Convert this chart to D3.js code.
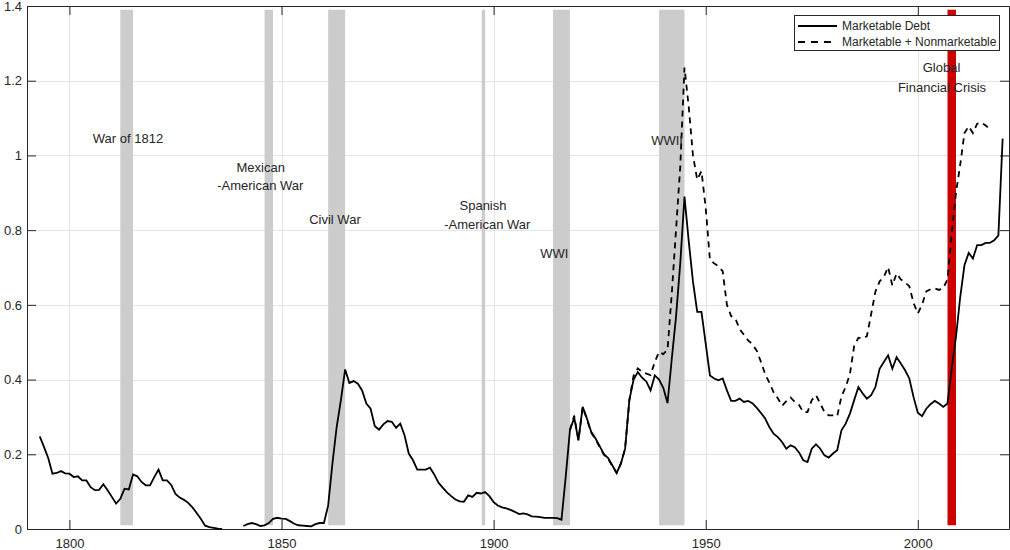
<!DOCTYPE html>
<html>
<head>
<meta charset="utf-8">
<script src="https://cdnjs.cloudflare.com/ajax/libs/d3/7.8.5/d3.min.js"></script>
<style>
  body { margin: 0; background: #fff; }
  svg { display: block; font-family: Arial, "Liberation Sans", Helvetica, sans-serif; }
  .axis path, .axis line { stroke: #262626; }
  .axis text { fill: #262626; font-size: 13px; }
  .grid line { stroke: #e4e4e4; stroke-width: 1; }
  .war-label { fill: #262626; font-size: 13px; }
  .legend text { fill: #262626; font-size: 12px; }
</style>
</head>
<body>
<svg id="chart" width="1010" height="550"></svg>
<script>
// marketable debt / GDP, one value per year from 1793 (null = no debt outstanding)
var debtStart = 1793;
var marketable = [
  0.248, 0.220, 0.190, 0.148, 0.150, 0.155, 0.149,
  0.148, 0.139, 0.141, 0.130, 0.130, 0.112, 0.104, 0.105, 0.120, 0.104,
  0.086, 0.068, 0.081, 0.108, 0.106, 0.146, 0.141, 0.126, 0.117, 0.117,
  0.139, 0.159, 0.130, 0.130, 0.118, 0.094, 0.084, 0.078, 0.070, 0.058,
  0.043, 0.027, 0.009, 0.005, 0.003, 0.001, 0.000, null, null, null,
  null, 0.008, 0.013, 0.016, 0.013, 0.008, 0.010, 0.016, 0.027, 0.030,
  0.028, 0.027, 0.021, 0.014, 0.010, 0.009, 0.008, 0.007, 0.013, 0.016,
  0.016, 0.063, 0.175, 0.273, 0.345, 0.427, 0.391, 0.396, 0.389, 0.371,
  0.336, 0.322, 0.275, 0.266, 0.280, 0.289, 0.287, 0.271, 0.282, 0.251,
  0.202, 0.184, 0.159, 0.159, 0.159, 0.164, 0.146, 0.124, 0.111, 0.098,
  0.088, 0.079, 0.074, 0.073, 0.090, 0.086, 0.097, 0.095, 0.099, 0.088,
  0.072, 0.063, 0.058, 0.055, 0.051, 0.046, 0.040, 0.042, 0.039, 0.034,
  0.033, 0.032, 0.030, 0.030, 0.030, 0.029, 0.025, 0.140, 0.265, 0.298,
  0.237, 0.327, 0.296, 0.260, 0.243, 0.222, 0.200, 0.190, 0.170, 0.150,
  0.175, 0.215, 0.345, 0.400, 0.420, 0.405, 0.395, 0.371, 0.411, 0.400,
  0.378, 0.337, 0.455, 0.568, 0.711, 0.890, 0.770, 0.662, 0.581, 0.581,
  0.496, 0.411, 0.403, 0.398, 0.403, 0.371, 0.343, 0.343, 0.349, 0.340,
  0.343, 0.337, 0.325, 0.311, 0.296, 0.273, 0.255, 0.246, 0.233, 0.215,
  0.224, 0.219, 0.205, 0.184, 0.179, 0.215, 0.227, 0.215, 0.197, 0.191,
  0.202, 0.211, 0.264, 0.282, 0.309, 0.345, 0.380, 0.363, 0.349, 0.358,
  0.380, 0.429, 0.447, 0.465, 0.429, 0.460, 0.443, 0.425, 0.403, 0.353,
  0.311, 0.302, 0.322, 0.334, 0.343, 0.336, 0.327, 0.336, 0.430, 0.514,
  0.621, 0.706, 0.739, 0.724, 0.760, 0.760, 0.766, 0.766, 0.773, 0.786,
  1.045
];

// marketable + nonmarketable, one value per year from 1918
var totalStart = 1918;
var total = [
  0.265, 0.303,
  0.238, 0.326, 0.294, 0.258, 0.240, 0.220, 0.199, 0.188, 0.168, 0.150,
  0.175, 0.215, 0.345, 0.410, 0.430, 0.420, 0.416, 0.412, 0.447, 0.474,
  0.468, 0.480, 0.630, 0.800, 0.970, 1.235, 1.130, 1.000, 0.935, 0.958,
  0.860, 0.720, 0.711, 0.703, 0.690, 0.600, 0.570, 0.563, 0.535, 0.520,
  0.505, 0.495, 0.478, 0.448, 0.415, 0.392, 0.366, 0.350, 0.330, 0.342,
  0.352, 0.340, 0.332, 0.313, 0.313, 0.345, 0.358, 0.336, 0.313, 0.304,
  0.304, 0.302, 0.355, 0.380, 0.415, 0.490, 0.512, 0.510, 0.516, 0.575,
  0.635, 0.663, 0.675, 0.701, 0.652, 0.684, 0.668, 0.660, 0.650, 0.605,
  0.577, 0.600, 0.636, 0.642, 0.644, 0.640, 0.645, 0.668, 0.790, 0.900,
  0.975, 1.060, 1.078, 1.060, 1.085, 1.088, 1.080, 1.070
];

var seriesNames = ["Marketable Debt", "Marketable + Nonmarketable"];

// war periods (years)
var warStart = [1812, 1846, 1861, 1897.2, 1914, 1939];
var warEnd   = [1815, 1848, 1865, 1898, 1918, 1945];
var crisisStart = 2007, crisisEnd = 2009;

// annotations: text, year, value
var labelText  = ["War of 1812", "Mexican", "-American War", "Civil War", "Spanish", "-American War", "WWI", "WWII", "Global", "Financial Crisis"];
var labelYear  = [1813.8, 1845.1, 1845.0, 1862.6, 1897.5, 1898.5, 1914.3, 1940.9, 2005.6, 2005.7];
var labelValue = [1.046, 0.968, 0.920, 0.829, 0.865, 0.816, 0.737, 1.041, 1.236, 1.182];

var xTicks = [1800, 1850, 1900, 1950, 2000];
var yTicks = [0, 0.2, 0.4, 0.6, 0.8, 1, 1.2, 1.4];

var svg = d3.select("#chart");
var plotLeft = 27, plotTop = 6, w = 982, h = 523;
var g = svg.append("g").attr("transform", "translate(" + plotLeft + "," + plotTop + ")");

var x = d3.scaleLinear().domain([1790, 2021.5]).range([0, w]);
var y = d3.scaleLinear().domain([0, 1.4]).range([h, 0]);

// grid
var grid = g.append("g").attr("class", "grid");
grid.selectAll(".gx").data(xTicks).enter().append("line")
  .attr("x1", function(d) { return Math.round(x(d)) + 0.5; })
  .attr("x2", function(d) { return Math.round(x(d)) + 0.5; })
  .attr("y1", 0).attr("y2", h);
grid.selectAll(".gy").data(yTicks.slice(1, -1)).enter().append("line")
  .attr("x1", 0).attr("x2", w)
  .attr("y1", function(d) { return Math.round(y(d)) + 0.5; })
  .attr("y2", function(d) { return Math.round(y(d)) + 0.5; });

// war bands
var wars = warStart.map(function(s, i) { return {s: s, e: warEnd[i], c: "#cccccc"}; });
wars.push({s: crisisStart, e: crisisEnd, c: "#cc0000"});
g.selectAll(".band").data(wars).enter().append("rect")
  .attr("class", "band")
  .attr("x", function(d) { return x(d.s); })
  .attr("width", function(d) { return x(d.e) - x(d.s); })
  .attr("y", y(1.39))
  .attr("height", y(0.01) - y(1.39))
  .attr("fill", function(d) { return d.c; });

// axes (box with inward ticks)
g.append("g").attr("class", "axis")
  .attr("transform", "translate(0," + h + ")")
  .call(d3.axisBottom(x).tickValues(xTicks).tickSize(-9).tickSizeOuter(0).tickPadding(10).tickFormat(d3.format("d")));
g.append("g").attr("class", "axis")
  .call(d3.axisTop(x).tickValues(xTicks).tickSize(-9).tickSizeOuter(0).tickFormat(""));
g.append("g").attr("class", "axis")
  .call(d3.axisLeft(y).tickValues(yTicks).tickSize(-9).tickSizeOuter(0).tickPadding(5).tickFormat(d3.format("~g")));
g.append("g").attr("class", "axis")
  .attr("transform", "translate(" + w + ",0)")
  .call(d3.axisRight(y).tickValues(yTicks).tickSize(-9).tickSizeOuter(0).tickFormat(""));

// series
function toPoints(start, vals) {
  return vals.map(function(v, i) { return {year: start + i, v: v}; });
}
var line = d3.line()
  .defined(function(d) { return d.v !== null; })
  .x(function(d) { return x(d.year); })
  .y(function(d) { return y(d.v); });

g.append("path")
  .datum(toPoints(debtStart, marketable))
  .attr("fill", "none").attr("stroke", "#000").attr("stroke-width", 1.8)
  .attr("d", line);
g.append("path")
  .datum(toPoints(totalStart, total))
  .attr("fill", "none").attr("stroke", "#000").attr("stroke-width", 1.8)
  .attr("stroke-dasharray", "6,5")
  .attr("d", line);

// annotations
g.selectAll(".war-label").data(labelText).enter().append("text")
  .attr("class", "war-label")
  .attr("x", function(d, i) { return x(labelYear[i]); })
  .attr("y", function(d, i) { return y(labelValue[i]); })
  .attr("dy", "0.35em")
  .attr("text-anchor", "middle")
  .text(function(d) { return d; });

// legend
var legend = svg.append("g").attr("class", "legend");
legend.append("rect")
  .attr("x", 794.5).attr("y", 15.5).attr("width", 205).attr("height", 35)
  .attr("fill", "#fff").attr("stroke", "#262626").attr("stroke-width", 1);
var items = legend.selectAll(".item").data(seriesNames).enter().append("g")
  .attr("transform", function(d, i) { return "translate(798," + (26 + i * 16) + ")"; });
items.append("line")
  .attr("x1", 0).attr("x2", 39).attr("y1", 0).attr("y2", 0)
  .attr("stroke", "#000").attr("stroke-width", 1.8)
  .attr("stroke-dasharray", function(d, i) { return i ? "7,6" : null; });
items.append("text")
  .attr("x", 44).attr("dy", "0.35em")
  .text(function(d) { return d; });
</script>
</body>
</html>
